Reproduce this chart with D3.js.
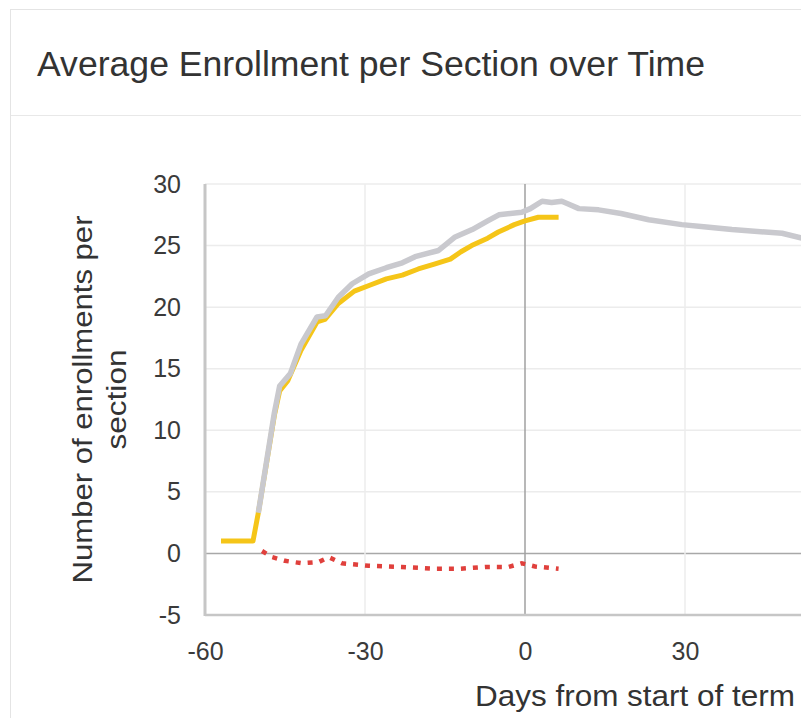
<!DOCTYPE html>
<html>
<head>
<meta charset="utf-8">
<script src="https://cdn.jsdelivr.net/npm/d3@7"></script>
<style>
  body { margin: 0; background: #fff; font-family: "Liberation Sans", Arial, sans-serif; }
  svg { display: block; }
</style>
</head>
<body>
<div id="chart"></div>
<script>
// tick labels
var xTicks = [-60, -30, 0, 30];
var yTicks = [-5, 0, 5, 10, 15, 20, 25, 30];

// current term (yellow)
var currentDays = [-57, -51, -50, -47, -46, -44.5, -42, -39, -37.5, -35, -32, -29, -26, -23, -20, -17, -14, -12, -10, -7, -5, -2, 0, 2.5, 6.3];
var currentVals = [1.0, 1.0, 3.3, 11.2, 13.2, 14.0, 16.5, 18.8, 19.0, 20.3, 21.3, 21.8, 22.3, 22.6, 23.1, 23.5, 23.9, 24.5, 25.0, 25.6, 26.1, 26.7, 27.0, 27.3, 27.3];

// comparison term (gray)
var priorDays = [-50, -47, -46, -44, -42, -39, -37.4, -35, -32.4, -29.3, -26, -23, -20.6, -16.2, -13.1, -9.9, -7, -4.9, -0.6, 1, 3.2, 5, 6.9, 8, 10.1, 13.8, 18, 23.2, 29.4, 34, 38.8, 48.2, 53];
var priorVals = [3.3, 11.4, 13.6, 14.6, 17.0, 19.2, 19.3, 20.8, 21.9, 22.7, 23.2, 23.6, 24.1, 24.6, 25.7, 26.3, 27.0, 27.5, 27.7, 28.0, 28.6, 28.5, 28.6, 28.4, 28.0, 27.9, 27.6, 27.1, 26.7, 26.5, 26.3, 26.0, 25.5];

// difference (red dotted)
var diffDays = [-49.3, -47.4, -45, -41.8, -38.7, -36.8, -34.3, -29.3, -23.1, -16.8, -12.4, -7.4, -3.1, -0.6, 1.9, 6.3];
var diffVals = [0.2, -0.3, -0.6, -0.8, -0.7, -0.3, -0.8, -1.0, -1.1, -1.25, -1.25, -1.1, -1.1, -0.8, -1.06, -1.25];

var W = 801, H = 718;
var svg = d3.select('#chart').append('svg')
  .attr('width', W)
  .attr('height', H);

// card
svg.append('rect')
  .attr('x', 10.5).attr('y', 9.5)
  .attr('width', 900).attr('height', 800)
  .attr('fill', '#fff')
  .attr('stroke', '#e4e4e4');
svg.append('line')
  .attr('x1', 11).attr('x2', W)
  .attr('y1', 115.5).attr('y2', 115.5)
  .attr('stroke', '#e8e8e8');
svg.append('text')
  .attr('x', 37).attr('y', 76)
  .attr('font-size', 35)
  .attr('textLength', 668)
  .attr('lengthAdjust', 'spacingAndGlyphs')
  .attr('fill', '#333')
  .text('Average Enrollment per Section over Time');

var x = d3.scaleLinear().domain([-60, 90]).range([205, 1005]);
var y = d3.scaleLinear().domain([-5, 30]).range([615, 184]);

var grid = svg.append('g');
grid.selectAll('.hg').data(yTicks.filter(function (d) { return d !== -5; }))
  .enter().append('line')
  .attr('x1', x(-60)).attr('x2', W)
  .attr('y1', function (d) { return y(d); })
  .attr('y2', function (d) { return y(d); })
  .attr('stroke', function (d) { return d === 0 ? '#a8a8a8' : '#ececec'; })
  .attr('stroke-width', 1.5);
grid.selectAll('.vg').data(xTicks.filter(function (d) { return d !== -60; }))
  .enter().append('line')
  .attr('x1', function (d) { return x(d); })
  .attr('x2', function (d) { return x(d); })
  .attr('y1', y(30)).attr('y2', y(-5))
  .attr('stroke', function (d) { return d === 0 ? '#a0a0a0' : '#ececec'; })
  .attr('stroke-width', 1.5);

// axis lines
svg.append('line')
  .attr('x1', x(-60)).attr('x2', x(-60))
  .attr('y1', y(30)).attr('y2', y(-5) + 1)
  .attr('stroke', '#c6c6c6').attr('stroke-width', 3);
svg.append('line')
  .attr('x1', x(-60)).attr('x2', W)
  .attr('y1', y(-5)).attr('y2', y(-5))
  .attr('stroke', '#c6c6c6').attr('stroke-width', 2.5);

// tick labels via axes
var fmt = function (d) { return String(d); };
var yAxis = svg.append('g')
  .attr('transform', 'translate(' + (x(-60) - 24) + ',0)')
  .call(d3.axisLeft(y).tickValues(yTicks).tickFormat(fmt).tickSize(0).tickPadding(0));
var xAxis = svg.append('g')
  .attr('transform', 'translate(0,' + (y(-5) + 27) + ')')
  .call(d3.axisBottom(x).tickValues(xTicks).tickFormat(fmt).tickSize(0).tickPadding(0));
[yAxis, xAxis].forEach(function (a) {
  a.select('.domain').remove();
  a.selectAll('text')
    .attr('font-size', 25)
    .attr('font-family', '"Liberation Sans", Arial, sans-serif')
    .attr('fill', '#3a3a3a');
});

// axis titles
svg.append('text')
  .attr('x', 635).attr('y', 706)
  .attr('text-anchor', 'middle')
  .attr('font-size', 29).attr('fill', '#333')
  .attr('textLength', 320)
  .attr('lengthAdjust', 'spacingAndGlyphs')
  .text('Days from start of term');
var midY = (y(30) + y(-5)) / 2;
svg.append('text')
  .attr('transform', 'translate(92,' + midY + ') rotate(-90)')
  .attr('text-anchor', 'middle')
  .attr('font-size', 27).attr('fill', '#333')
  .attr('textLength', 368)
  .attr('lengthAdjust', 'spacingAndGlyphs')
  .text('Number of enrollments per');
svg.append('text')
  .attr('transform', 'translate(126,' + midY + ') rotate(-90)')
  .attr('text-anchor', 'middle')
  .attr('font-size', 27).attr('fill', '#333')
  .attr('textLength', 100)
  .attr('lengthAdjust', 'spacingAndGlyphs')
  .text('section');

// series
var line = d3.line()
  .x(function (d) { return x(d[0]); })
  .y(function (d) { return y(d[1]); });

svg.append('path')
  .datum(d3.zip(currentDays, currentVals))
  .attr('d', line)
  .attr('fill', 'none')
  .attr('stroke', '#f5c518')
  .attr('stroke-width', 5)
  .attr('stroke-linejoin', 'round');

svg.append('path')
  .datum(d3.zip(priorDays, priorVals))
  .attr('d', line)
  .attr('fill', 'none')
  .attr('stroke', '#c9c9ce')
  .attr('stroke-width', 5.5)
  .attr('stroke-linejoin', 'round');

svg.append('path')
  .datum(d3.zip(diffDays, diffVals))
  .attr('d', line)
  .attr('fill', 'none')
  .attr('stroke', '#e0403c')
  .attr('stroke-width', 4.5)
  .attr('stroke-dasharray', '5,7');
</script>
</body>
</html>
